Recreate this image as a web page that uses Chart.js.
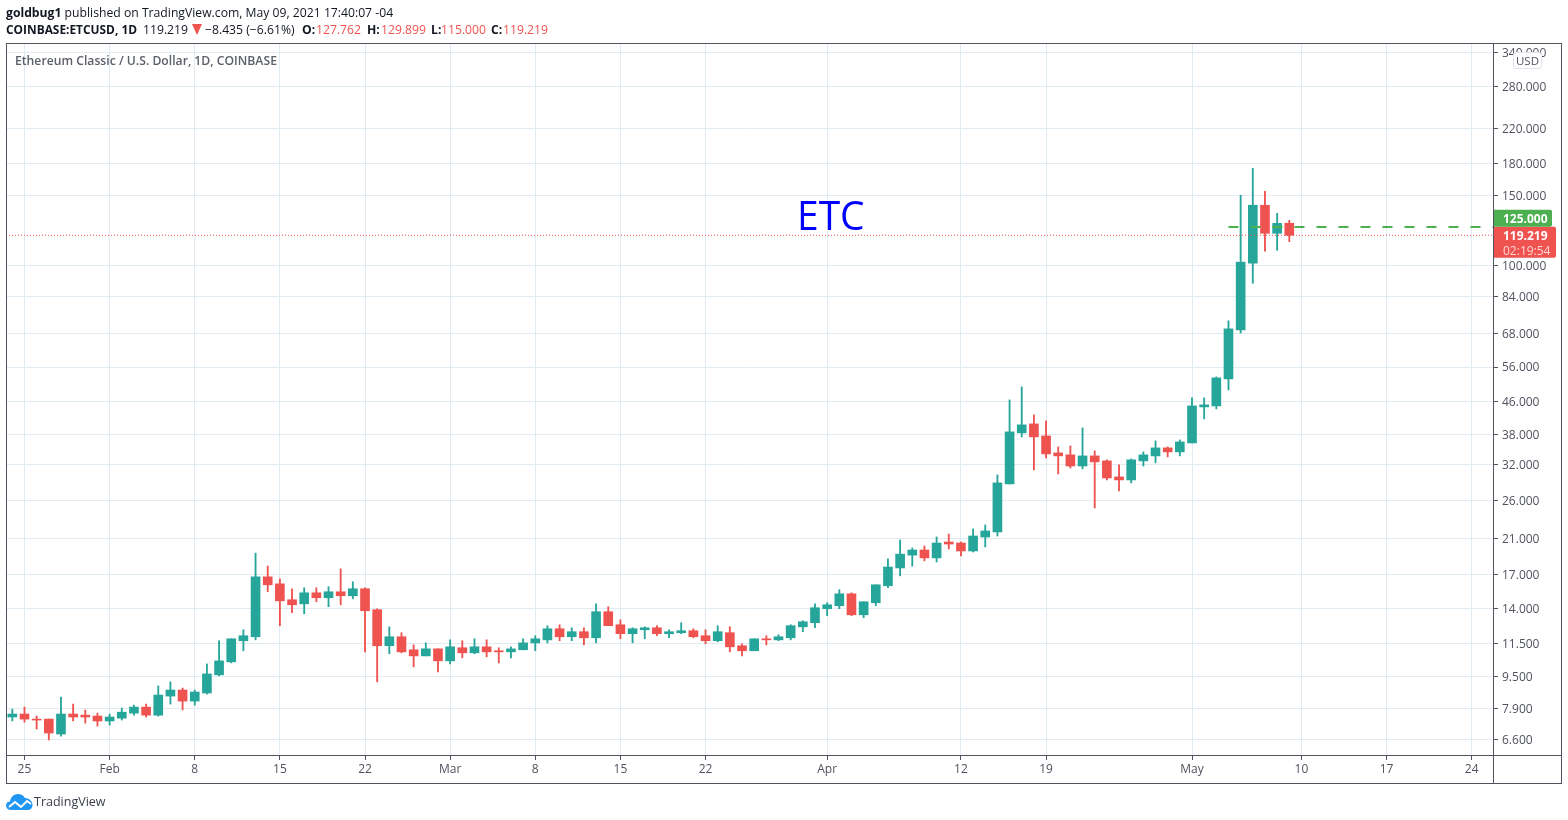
<!DOCTYPE html>
<html><head><meta charset="utf-8">
<style>
html,body{margin:0;padding:0;background:#fff;width:1568px;height:820px;overflow:hidden;font-family:"Open Sans",sans-serif;}
canvas{position:absolute;left:0;top:0;}
.t{position:absolute;white-space:nowrap;}
.h{position:absolute;white-space:nowrap;top:21px;font-size:12.2px;line-height:17px;color:#131722;}
.f{position:absolute;background:#50535e;}
.r{color:#ef5350;}
.b{font-weight:700;}
</style></head><body>
<canvas id="c" width="1568" height="820"></canvas>
<div class="t" style="left:6px;top:4px;font-size:12.2px;line-height:17px;color:#131722"><b>goldbug1</b> published on TradingView.com, May 09, 2021 17:40:07 -04</div>
<div class="h b" style="left:6px;font-size:11.9px">COINBASE:ETCUSD, 1D</div>
<div class="h" style="left:143px">119.219</div>
<svg style="position:absolute;left:192px;top:24px" width="10" height="11" viewBox="0 0 10 11"><path d="M0 0H10L5 11Z" fill="#ef5350"/></svg>
<div class="h" style="left:205px">−8.435 (−6.61%)</div>
<div class="h b" style="left:302px">O:</div><div class="h r" style="left:316px">127.762</div>
<div class="h b" style="left:367px">H:</div><div class="h r" style="left:381px">129.899</div>
<div class="h b" style="left:431px">L:</div><div class="h r" style="left:441px">115.000</div>
<div class="h b" style="left:491px">C:</div><div class="h r" style="left:503px">119.219</div>
<div class="t" style="left:15px;top:52px;font-size:12.2px;line-height:17px;font-weight:600;color:#5d606b">Ethereum Classic / U.S. Dollar, 1D, COINBASE</div>
<div class="t" style="left:797px;top:186px;font-size:41px;line-height:56px;color:#0000ff;font-family:'Open Sans',sans-serif;transform:scaleX(.95);transform-origin:left center">ETC</div>
<div class="f" style="left:6px;top:43px;width:1556px;height:1px"></div>
<div class="f" style="left:6px;top:783px;width:1556px;height:1px"></div>
<div class="f" style="left:6px;top:43px;width:1px;height:741px"></div>
<div class="f" style="left:1561px;top:43px;width:1px;height:741px"></div>
<div class="f" style="left:1493px;top:43px;width:1px;height:741px"></div>
<div class="f" style="left:6px;top:755px;width:1556px;height:1px"></div>
<div class="t" style="left:1513px;top:52px;width:27px;height:15px;border:1px solid #e0e3eb;border-radius:3px;background:#fff;font-size:11.5px;line-height:15px;text-align:center;color:#50535e">USD</div>
<svg style="position:absolute;left:6px;top:793px" width="27" height="17" viewBox="0 0 27 17"><path d="M5 17C2 17 0 15 0 12.5 0 10 2 8.500 4 8.500 4.500 4 8 1 12 1c3 0 5.500 1.500 7 4 4 0 7.500 3 7.500 7 0 3-2 5-5 5z" fill="#2196f3"/><path d="M3 14l6-5 6 5 6-6 4 3" fill="none" stroke="#fff" stroke-width="2"/></svg>
<div class="t" style="left:34px;top:793px;font-size:12.5px;line-height:17px;color:#3a3e4a">TradingView</div>
<script src="https://cdn.jsdelivr.net/npm/chart.js@4/dist/chart.umd.min.js"></script>
<script>
const firstDay = -1; // Jan 24 2021, day 0 = Jan 25
const opens = [7.53,7.66,7.44,7.44,6.83,7.66,7.61,7.57,7.36,7.48,
7.70,7.97,7.61,8.49,8.79,8.25,8.64,9.59,10.33,11.66,
11.93,16.82,16.16,14.75,14.41,15.35,14.92,15.44,15.09,15.71,
13.93,11.33,11.93,11.07,10.69,11.13,10.39,11.20,10.88,11.26,
11.01,10.94,11.07,11.52,11.72,12.49,11.93,12.28,11.86,13.77,
12.78,12.14,12.42,12.56,12.14,12.21,12.35,12.00,11.66,12.21,
11.33,11.01,11.79,11.72,11.86,12.63,12.93,14.01,14.25,15.26,
13.53,14.50,15.98,17.70,19.05,19.62,18.75,20.54,20.42,19.51,
21.14,21.76,28.66,38.40,40.43,37.74,34.23,33.85,31.76,33.65,
32.70,29.83,29.32,32.70,33.65,35.23,34.43,36.25,44.56,44.82,
52.33,69.31,101.6,141.6,120.6,127.762];
const highs = [7.88,7.97,7.57,7.44,8.44,8.11,7.84,7.70,7.66,7.93,
8.06,8.11,9.00,9.21,8.89,8.79,10.21,11.66,11.79,12.42,
19.27,17.89,16.63,15.71,15.80,15.80,15.89,17.60,16.35,15.80,
14.01,12.63,12.21,11.39,11.52,11.13,11.72,11.66,11.79,11.72,
11.20,11.26,11.79,12.00,12.71,12.78,12.56,12.56,14.41,14.17,
13.15,12.56,12.63,12.71,12.42,12.93,12.49,12.42,12.71,12.63,
11.46,11.79,12.00,12.07,12.78,13.08,14.41,14.50,15.62,15.35,
14.58,16.07,18.64,20.78,19.85,20.08,21.14,21.50,20.54,22.14,
22.65,30.17,46.39,49.98,42.57,41.13,35.43,35.63,39.51,34.63,
32.89,31.95,33.08,34.43,36.67,35.43,36.88,46.93,46.93,52.93,
73.0,150,175,153.4,135.2,129.899];
const lows = [7.36,7.31,7.03,6.60,6.75,7.36,7.27,7.15,7.19,7.40,
7.61,7.53,7.57,8.11,7.84,8.06,8.59,9.53,10.27,11.01,
11.72,15.44,12.71,13.69,13.61,14.58,14.17,14.33,14.83,10.94,
9.21,10.82,10.88,10.04,10.69,9.75,10.21,10.57,10.82,10.63,
10.27,10.57,11.07,11.01,11.52,11.66,11.66,11.39,11.52,12.71,
11.79,11.52,11.79,12.00,11.86,12.14,11.86,11.46,11.59,10.94,
10.69,11.01,11.39,11.66,11.72,12.28,12.56,13.46,14.01,13.46,
13.30,14.25,15.80,16.92,17.89,18.43,18.32,19.73,18.96,19.40,
19.96,21.26,28.66,37.52,31.05,33.27,30.35,31.40,31.23,24.97,
29.32,27.53,28.82,31.76,32.33,33.46,33.65,36.25,41.61,44.06,
49.13,68.12,90.56,108.8,109.4,115.0];
const closes = [7.66,7.44,7.40,6.87,7.66,7.53,7.53,7.36,7.53,7.74,
7.97,7.61,8.54,8.79,8.25,8.69,9.64,10.39,11.79,12.00,
16.82,16.07,14.66,14.33,15.35,14.92,15.44,15.09,15.71,13.85,
11.33,11.93,10.94,10.69,11.13,10.39,11.26,10.88,11.26,10.94,
10.94,11.13,11.52,11.79,12.49,11.93,12.28,11.86,13.77,12.71,
12.14,12.49,12.56,12.14,12.28,12.35,11.93,11.66,12.28,11.26,
11.01,11.79,11.72,11.93,12.71,13.00,14.09,14.33,15.26,13.53,
14.58,16.07,17.79,19.16,19.62,18.75,20.42,20.30,19.51,21.26,
21.88,28.82,38.62,40.20,37.52,34.04,33.65,31.76,33.65,32.52,
29.66,29.32,32.89,33.85,35.23,34.43,36.46,44.82,45.08,52.63,
69.71,102.2,141.6,120.6,127.654,119.219];
const priceTicks = [340,280,220,180,150,100,84,68,56,46,38,32,26,21,17,14,11.5,9.5,7.9,6.6];
const dayTicks = [0,7,14,21,28,35,42,49,56,66,77,84,96,105,112,119];
const dayLabels = ['25','Feb','8','15','22','Mar','8','15','22','Apr','12','19','May','10','17','24'];
const alertPrice = 125;
const alertStartDay = 99;
const lastClose = 119.219;
const countdown = '02:19:54';
const xMin = -1.52, xMax = 120.75, yMin = 6.056, yMax = 357;

const UP = '#26a69a', DOWN = '#ef5350';
const candleColors = closes.map((c,i)=> c>=opens[i] ? UP : DOWN);
const wicks = highs.map((h,i)=>({x:firstDay+i, y:[lows[i],h]}));
const bodies = opens.map((o,i)=>({x:firstDay+i, y:[Math.min(o,closes[i]),Math.max(o,closes[i])]}));

const tagsPlugin = {
  id:'tags',
  afterDraw(chart){
    const g = chart.ctx, ys = chart.scales.y, x0 = chart.chartArea.right;
    const y = ys.getPixelForValue(lastClose);
    g.save();
    g.textBaseline='middle'; g.textAlign='left';
    g.fillStyle=DOWN;
    g.beginPath(); g.roundRect(x0,y-8.5,63,31,[0,2,2,0]); g.fill();
    g.fillStyle='#4caf50';
    g.beginPath(); g.roundRect(x0,y-25.500,59,17,[0,2,2,0]); g.fill();
    g.font='bold 12px "Open Sans"';
    g.fillStyle='#fff';
    g.fillText(alertPrice.toFixed(3),x0+10,y-16);
    g.fillText(lastClose.toFixed(3),x0+10,y+1);
    g.font='12px "Open Sans"';
    g.fillStyle='#ffd5d3';
    g.fillText(countdown,x0+10,y+16);
    g.restore();
  }
};

new Chart(document.getElementById('c'),{
  type:'bar',
  data:{datasets:[
    {type:'line',data:[{x:alertStartDay,y:alertPrice},{x:xMax,y:alertPrice}],borderColor:'#4caf50',borderWidth:2,borderDash:[10,12],pointRadius:0,order:0},
    {type:'line',data:[{x:xMin,y:lastClose},{x:xMax,y:lastClose}],borderColor:DOWN,borderWidth:1,borderDash:[1,2],pointRadius:0,order:0},
    {data:bodies,backgroundColor:candleColors,barThickness:9,grouped:false,order:1},
    {data:wicks,backgroundColor:candleColors,barThickness:1.2,grouped:false,order:2}
  ]},
  options:{
    responsive:false,animation:false,devicePixelRatio:1,
    layout:{padding:{left:6,top:44,right:7,bottom:37}},
    plugins:{legend:{display:false},tooltip:{enabled:false}},
    scales:{
      x:{type:'linear',min:xMin,max:xMax,offset:false,bounds:'data',
        afterBuildTicks:s=>{s.ticks=dayTicks.map(v=>({value:v}));},
        afterFit:s=>{s.height=28;},
        border:{display:false},
        grid:{color:'#e1ecf2',tickColor:'#50535e',tickLength:5,lineWidth:1,offset:false},
        ticks:{autoSkip:false,maxRotation:0,padding:2,color:'#50535e',font:{family:'Open Sans',size:12},
          callback:v=>dayLabels[dayTicks.indexOf(v)]}
      },
      y:{type:'logarithmic',position:'right',min:yMin,max:yMax,
        afterBuildTicks:s=>{s.ticks=priceTicks.map(v=>({value:v}));},
        afterFit:s=>{s.width=68;},
        border:{display:false},
        grid:{color:'#e1ecf2',tickColor:'#50535e',tickLength:5,lineWidth:1},
        ticks:{autoSkip:false,padding:4,labelOffset:1,color:'#50535e',font:{family:'Open Sans',size:12},
          callback:v=>Number(v).toFixed(3)}
      }
    }
  },
  plugins:[tagsPlugin]
});
</script>
</body></html>
